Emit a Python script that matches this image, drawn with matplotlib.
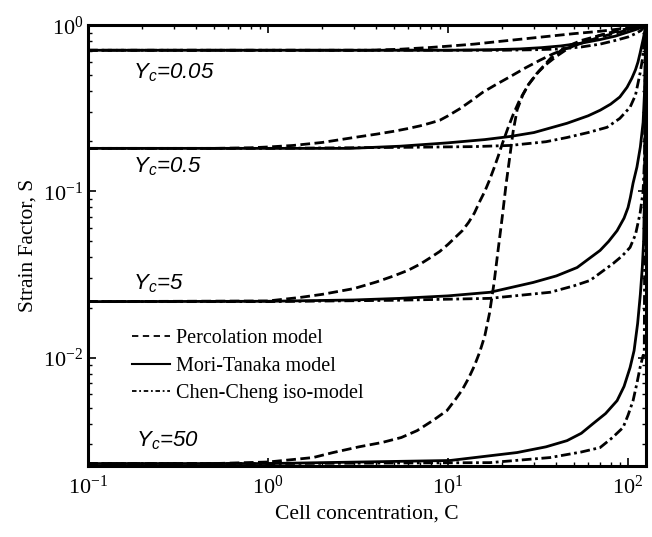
import numpy as np
import matplotlib
matplotlib.use('Agg')
import matplotlib.pyplot as plt
from matplotlib.lines import Line2D

# --- values (C = cell concentration, S = strain factor)
# Yc = 0.05
c_p005 = [0.1, 1.0, 3.7, 5.4, 8.0, 10.3, 14.0, 19.5, 27.0, 36.9, 50.0, 70.0,
          90.0, 110.0, 125.0]
s_p005 = [0.707, 0.707, 0.707, 0.717, 0.735, 0.75, 0.77, 0.80, 0.83, 0.86,
          0.89, 0.92, 0.95, 0.975, 1.0]
c_m005 = [0.1, 1.0, 10.0, 18.0, 25.0, 33.0, 42.0, 55.0, 70.0, 85.0, 100.0,
          113.0, 125.0]
s_m005 = [0.707, 0.707, 0.707, 0.713, 0.72, 0.733, 0.75, 0.78, 0.82, 0.86,
          0.91, 0.95, 1.0]
c_c005 = [0.1, 1.0, 20.0, 30.0, 42.0, 55.0, 70.0, 85.0, 100.0, 110.0, 118.0,
          125.0]
s_c005 = [0.707, 0.707, 0.707, 0.712, 0.72, 0.74, 0.77, 0.81, 0.85, 0.89,
          0.93, 1.0]

# Yc = 0.5
c_p05 = [0.1, 0.5, 0.8, 1.0, 1.38, 2.0, 3.0, 4.0, 5.0, 6.0, 7.0, 8.0, 9.0,
         10.0, 11.66, 13.5, 15.6, 18.5, 22.1, 27.0, 32.4, 38.0, 45.8, 57.0,
         70.0, 90.0, 110.0, 125.0]
s_p05 = [0.1815, 0.1815, 0.183, 0.185, 0.189, 0.197, 0.211, 0.221, 0.23,
         0.239, 0.248, 0.258, 0.268, 0.285, 0.315, 0.352, 0.395, 0.44, 0.49,
         0.555, 0.616, 0.67, 0.727, 0.79, 0.85, 0.91, 0.96, 1.0]
c_m05 = [0.1, 1.0, 2.85, 5.41, 10.0, 16.0, 22.1, 30.0, 45.8, 60.0, 70.0, 80.0,
         90.0, 98.7, 105.0, 110.0, 113.5, 116.6, 119.0, 121.5, 123.5, 125.0]
s_m05 = [0.1815, 0.1815, 0.1815, 0.187, 0.196, 0.205, 0.214, 0.226, 0.257,
         0.285, 0.308, 0.335, 0.37, 0.423, 0.48, 0.54, 0.60, 0.678, 0.75,
         0.83, 0.91, 1.0]
c_c05 = [0.1, 1.0, 5.41, 14.0, 22.1, 35.0, 45.8, 60.0, 76.4, 90.0, 102.6,
         110.0, 116.6, 120.0, 123.0, 125.0]
s_c05 = [0.1815, 0.1815, 0.184, 0.186, 0.189, 0.199, 0.211, 0.226, 0.243,
         0.275, 0.321, 0.38, 0.514, 0.62, 0.80, 1.0]

# Yc = 5
c_p5 = [0.1, 1.0, 1.51, 2.0, 3.0, 4.0, 5.0, 6.0, 7.0, 8.0, 9.0, 10.0, 11.0,
        12.0, 13.0, 14.0, 15.0, 16.0, 17.0, 18.0, 19.0, 20.0, 21.5, 23.0,
        25.0, 28.0, 32.0, 37.0, 45.0, 55.0, 70.0, 90.0, 110.0, 125.0]
s_p5 = [0.0217, 0.0219, 0.023, 0.024, 0.026, 0.0285, 0.031, 0.0335, 0.0365,
        0.040, 0.0435, 0.048, 0.053, 0.058, 0.065, 0.074, 0.087, 0.10, 0.117,
        0.138, 0.163, 0.193, 0.24, 0.29, 0.355, 0.44, 0.53, 0.63, 0.74, 0.81,
        0.87, 0.93, 0.97, 1.0]
c_m5 = [0.1, 1.0, 3.0, 5.41, 10.0, 17.1, 29.7, 40.0, 52.1, 60.0, 69.9, 78.0,
        86.9, 95.0, 100.0, 103.0, 106.6, 112.0, 117.0, 121.2, 123.5, 124.5,
        125.0]
s_m5 = [0.0217, 0.0218, 0.0222, 0.0227, 0.0235, 0.0247, 0.0283, 0.031,
        0.0348, 0.039, 0.0441, 0.050, 0.058, 0.069, 0.08, 0.092, 0.112, 0.14,
        0.185, 0.26, 0.40, 0.60, 1.0]
c_c5 = [0.1, 1.0, 5.0, 17.0, 36.9, 50.0, 61.5, 72.0, 82.6, 93.0, 102.6, 110.0,
        116.6, 121.2, 123.5, 125.0]
s_c5 = [0.0217, 0.0217, 0.0221, 0.0227, 0.0247, 0.027, 0.0291, 0.033, 0.0368,
        0.041, 0.046, 0.055, 0.0737, 0.10, 0.16, 1.0]

# Yc = 50
c_p50 = [0.1, 0.5, 1.0, 1.78, 2.3, 3.2, 4.3, 5.5, 6.73, 8.3, 9.87, 11.0, 12.0,
         13.0, 14.0, 15.0, 16.0, 17.0, 18.0, 19.0, 20.0, 21.0, 22.0, 23.0,
         24.2, 26.0, 28.0, 31.0, 35.0, 40.0, 46.0, 55.0, 70.0, 90.0, 110.0,
         125.0]
s_p50 = [0.0023, 0.0023, 0.00235, 0.0025, 0.00268, 0.0029, 0.00308, 0.0033,
         0.00363, 0.0042, 0.0048, 0.0056, 0.0064, 0.0075, 0.0089, 0.0108,
         0.0135, 0.0185, 0.028, 0.045, 0.07, 0.11, 0.16, 0.23, 0.31, 0.38,
         0.44, 0.51, 0.58, 0.65, 0.72, 0.79, 0.87, 0.93, 0.97, 1.0]
c_m50 = [0.1, 1.0, 10.26, 24.2, 35.0, 45.8, 55.0, 63.9, 75.0, 86.9, 95.0,
         102.6, 108.0, 113.0, 117.0, 120.0, 122.0, 123.5, 124.5, 125.0]
s_m50 = [0.0023, 0.0023, 0.0024, 0.00268, 0.0029, 0.00316, 0.0035, 0.004,
         0.0046, 0.0055, 0.0067, 0.0087, 0.011, 0.016, 0.024, 0.035, 0.05,
         0.1, 0.3, 1.0]
c_c50 = [0.1, 1.0, 17.1, 36.9, 55.0, 69.9, 82.0, 93.8, 100.0, 106.6, 112.0,
         116.6, 121.2, 123.0, 125.0]
s_c50 = [0.0023, 0.0023, 0.00233, 0.0025, 0.0027, 0.00287, 0.0033, 0.00379,
         0.0045, 0.0055, 0.007, 0.0087, 0.0103, 0.0103, 1.0]

yc_labels = ['0.05', '0.5', '5', '50']
label_pos = [(0.178, 0.52), (0.178, 0.14), (0.178, 0.028), (0.185, 0.00316)]

plt.rcParams['font.family'] = 'Liberation Serif'
plt.rcParams['axes.unicode_minus'] = False

fig = plt.figure(figsize=(6.52, 5.37), dpi=100)
ax = fig.add_axes([0.135, 0.132, 0.856, 0.821])

lw = 2.0
dash = (0, (3.5, 1.6))
dashdot = (0, (3.5, 1.3, 1.0, 1.3))

for c, s in [(c_p005, s_p005), (c_p05, s_p05), (c_p5, s_p5), (c_p50, s_p50)]:
    ax.plot(c, s, color='k', lw=lw, linestyle=dash)
for c, s in [(c_m005, s_m005), (c_m05, s_m05), (c_m5, s_m5), (c_m50, s_m50)]:
    ax.plot(c, s, color='k', lw=lw, linestyle='-')
for c, s in [(c_c005, s_c005), (c_c05, s_c05), (c_c5, s_c5), (c_c50, s_c50)]:
    ax.plot(c, s, color='k', lw=lw, linestyle=dashdot)

ax.set_xscale('log')
ax.set_yscale('log')
ax.set_xlim(0.1, 126)
ax.set_ylim(0.00222, 1.0)

for lab, (x, y) in zip(yc_labels, label_pos):
    ax.text(x, y, r'$\mathdefault{Y_c}$=' + lab, family='Liberation Sans',
            style='italic', fontsize=16, ha='left', va='center')

handles = [Line2D([], [], color='k', lw=1.3, linestyle=(0, (3.5, 2.5))),
           Line2D([], [], color='k', lw=1.5, linestyle='-'),
           Line2D([], [], color='k', lw=1.3, linestyle=(0, (2.5, 1.5, 1, 1.5)))]
leg = ax.legend(handles, ['Percolation model', 'Mori-Tanaka model',
                          'Chen-Cheng iso-model'],
                loc='upper left', bbox_to_anchor=(0.079, 0.311), frameon=False,
                fontsize=14.5, handlelength=1.9, handletextpad=0.3,
                labelspacing=0.42, borderaxespad=0.0, borderpad=0.0)

for sp in ax.spines.values():
    sp.set_linewidth(2.2)
ax.tick_params(which='both', direction='in', top=True, right=True,
               labelsize=16)
ax.tick_params(axis='x', pad=7)
ax.tick_params(which='major', length=6, width=1.2)
ax.tick_params(which='minor', length=3, width=1.0)

ax.set_xlabel('Cell concentration, C', fontsize=15.5)
ax.set_ylabel('Strain Factor, S', fontsize=15.5)

fig.savefig('out.png', dpi=100)
